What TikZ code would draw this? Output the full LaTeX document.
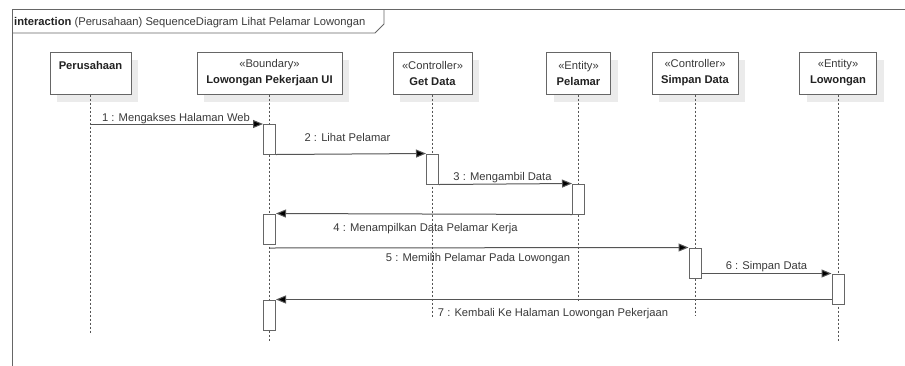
\documentclass[tikz,border=0pt]{standalone}
\usepackage{fontspec}
\setmainfont{Liberation Sans}
\usetikzlibrary{arrows.meta,shadows}
\definecolor{linegray}{HTML}{555555}
\definecolor{boxgray}{HTML}{666666}
\definecolor{textgray}{HTML}{3A3A3A}
\definecolor{namegray}{HTML}{222222}
\definecolor{shadowgray}{HTML}{EBEBEB}

\begin{document}
\begin{tikzpicture}[x=1pt,y=-1pt,
  font=\fontsize{11.2}{16}\selectfont,
  frameline/.style={draw=boxgray, line width=0.9pt},
  head/.style={draw=boxgray, fill=white, line width=1pt, inner sep=0pt,
    minimum height=42pt, align=center, text=namegray,
    drop shadow={shadow xshift=7pt, shadow yshift=-8pt, fill=shadowgray, opacity=1}},
  stereo/.style={text=textgray},
  lifeline/.style={draw=linegray, line width=0.8pt, dash pattern=on 2pt off 2pt},
  act/.style={draw=boxgray, fill=white, line width=1pt, inner sep=0pt,
    minimum width=12pt, minimum height=30pt},
  msg/.style={draw=linegray, line width=1pt, -{Triangle[length=10pt,width=8pt,fill=black]}},
  lbl/.style={text=textgray, inner sep=0pt, anchor=base}]

\useasboundingbox (0,0) rectangle (905,365);
\fill[white] (0,0) rectangle (905,365);

% interaction frame and its name tab
\draw[frameline] (12,366) -- (12,9) -- (906,9);
\draw[frameline] (12,33) -- (375,33) -- (384,24) -- (384,9);
\node[anchor=base west, inner sep=0pt, text=namegray] (title) at (14,25)
  {\textbf{interaction} {\color{textgray}(Perusahaan) SequenceDiagram Lihat Pelamar Lowongan}};

% lifeline heads
\node[head, minimum width=81pt] (per) at (90.5,73) {\textbf{Perusahaan}\\ \phantom{X}};
\node[head, minimum width=145pt] (ui) at (269.5,73) {{\color{textgray}«Boundary»}\\ \textbf{Lowongan Pekerjaan UI}};
\node[head, minimum width=79pt] (gd) at (432.5,73) {{\color{textgray}«Controller»}\\ \textbf{Get Data}};
\node[head, minimum width=64pt] (pel) at (578.5,73) {{\color{textgray}«Entity»}\\ \textbf{Pelamar}};
\node[head, minimum width=86pt] (sd) at (695,73) {{\color{textgray}«Controller»}\\ \textbf{Simpan Data}};
\node[head, minimum width=77pt] (low) at (838,73) {{\color{textgray}«Entity»}\\ \textbf{Lowongan}};

% lifeline ends
\coordinate (perEnd) at (90.5,333);
\coordinate (uiEnd) at (269.5,341);
\coordinate (gdEnd) at (432.5,317);
\coordinate (pelEnd) at (578.5,301);
\coordinate (sdEnd) at (695,315);
\coordinate (lowEnd) at (838,341);

\draw[lifeline] (per.south) -- (perEnd);
\draw[lifeline] (ui.south) -- (uiEnd);
\draw[lifeline] (gd.south) -- (gdEnd);
\draw[lifeline] (pel.south) -- (pelEnd);
\draw[lifeline] (sd.south) -- (sdEnd);
\draw[lifeline] (low.south) -- (lowEnd);

% activation bars
\node[act] (a1) at (269.5,139) {};
\node[act] (a2) at (432.5,169) {};
\node[act] (a3) at (578.5,199) {};
\node[act] (a4) at (269.5,229) {};
\node[act] (a5) at (695,263) {};
\node[act] (a6) at (838,289) {};
\node[act] (a7) at (269.5,315) {};

% messages
\coordinate (m1s) at (90.5,124);
\draw[msg] (m1s) -- (m1s -| a1.west);
\node[lbl] (l1) at (176,121) {1 : Mengakses Halaman Web};

\draw[msg] (a1.south east) -- (a2.north west);
\node[lbl] (l2) at (347.5,141) {2 : Lihat Pelamar};

\draw[msg] (a2.south east) -- (a3.north west);
\node[lbl] (l3) at (502.5,180) {3 : Mengambil Data};

\draw[msg] (a3.south west) -- (a4.north east);
\node[lbl] (l4) at (425.5,231) {4 : Menampilkan Data Pelamar Kerja};

\coordinate (m5s) at (269.5,248);
\draw[msg] (m5s) -- (a5.north west);
\node[lbl] (l5) at (478,261) {5 : Memilih Pelamar Pada Lowongan};

\draw[msg] (a5.east |- a6.north) -- (a6.north west);
\node[lbl] (l6) at (766.5,269) {6 : Simpan Data};

\draw[msg] (a6.west |- a7.north) -- (a7.north east);
\node[lbl] (l7) at (553,316) {7 : Kembali Ke Halaman Lowongan Pekerjaan};

\end{tikzpicture}
\end{document}
